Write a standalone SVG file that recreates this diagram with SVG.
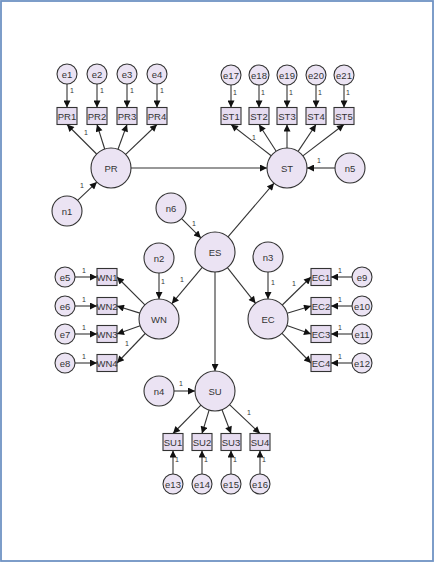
<svg xmlns="http://www.w3.org/2000/svg" width="435" height="563" viewBox="0 0 435 563">
<style>
.lat{fill:#ebe3f3;stroke:#333;stroke-width:1.1}
.err{fill:#ebe3f3;stroke:#333;stroke-width:1.1}
.obs{fill:#e6dcf0;stroke:#333;stroke-width:1.1}
.t{font-family:"Liberation Sans",Arial,sans-serif;font-size:9.5px;fill:#333;text-anchor:middle;dominant-baseline:central}
.s{font-family:"Liberation Sans",Arial,sans-serif;font-size:7px;fill:#333;text-anchor:middle;dominant-baseline:central}
#conn line{stroke:#333;stroke-width:1.1;marker-end:url(#ah)}
</style>
<defs>
<marker id="ah" viewBox="0 0 10 10" refX="10" refY="5" markerWidth="9" markerHeight="7" markerUnits="userSpaceOnUse" orient="auto">
<path d="M0,0 L10,5 L0,10 z" fill="#111"/>
</marker>
</defs>
<rect x="0" y="0" width="435" height="563" fill="#fff"/>
<rect x="1" y="1" width="432" height="560" fill="none" stroke="#6f93c4" stroke-width="1.8"/>

<g id="conn">
<line x1="67" y1="84" x2="67" y2="107.5"/>
<line x1="97" y1="84" x2="97" y2="107.5"/>
<line x1="127" y1="84" x2="127" y2="107.5"/>
<line x1="157" y1="84" x2="157" y2="107.5"/>
<line x1="96.6" y1="154" x2="67" y2="124.5"/>
<line x1="104.7" y1="149" x2="97" y2="124.5"/>
<line x1="118" y1="149.3" x2="127" y2="124.5"/>
<line x1="125.7" y1="154.4" x2="157" y2="124.5"/>
<line x1="77.6" y1="200.4" x2="96.9" y2="182.1"/>
<line x1="131" y1="168" x2="267" y2="168"/>
<line x1="335" y1="168" x2="307" y2="168"/>
<line x1="231" y1="85" x2="231" y2="107.5"/>
<line x1="259" y1="85" x2="259" y2="107.5"/>
<line x1="287" y1="85" x2="287" y2="107.5"/>
<line x1="316" y1="85" x2="316" y2="107.5"/>
<line x1="344" y1="85" x2="344" y2="107.5"/>
<line x1="271.2" y1="155.7" x2="231" y2="124.5"/>
<line x1="276.2" y1="151.2" x2="259" y2="124.5"/>
<line x1="287" y1="148" x2="287" y2="124.5"/>
<line x1="298.1" y1="151.4" x2="316" y2="124.5"/>
<line x1="302.9" y1="155.9" x2="344" y2="124.5"/>
<line x1="228" y1="236.8" x2="274" y2="183.2"/>
<line x1="181.6" y1="218.6" x2="200.9" y2="237.9"/>
<line x1="202.2" y1="267.3" x2="171.8" y2="303.7"/>
<line x1="227.4" y1="267.7" x2="255.6" y2="303.3"/>
<line x1="215" y1="272" x2="215" y2="371"/>
<line x1="159" y1="273" x2="159" y2="299"/>
<line x1="268" y1="272" x2="268" y2="299"/>
<line x1="174" y1="391" x2="195" y2="391"/>
<line x1="144.9" y1="304.9" x2="117" y2="277"/>
<line x1="139.9" y1="313.1" x2="117" y2="306"/>
<line x1="140.2" y1="325.7" x2="117" y2="334"/>
<line x1="145.2" y1="333.5" x2="117" y2="363"/>
<line x1="75" y1="277" x2="97" y2="277"/>
<line x1="75" y1="306" x2="97" y2="306"/>
<line x1="75" y1="334" x2="97" y2="334"/>
<line x1="75" y1="363" x2="97" y2="363"/>
<line x1="282.3" y1="305" x2="311" y2="277"/>
<line x1="287.1" y1="313.2" x2="311" y2="306"/>
<line x1="286.9" y1="325.6" x2="311" y2="334"/>
<line x1="282" y1="333.3" x2="311" y2="363"/>
<line x1="352" y1="277" x2="331" y2="277"/>
<line x1="352" y1="306" x2="331" y2="306"/>
<line x1="352" y1="334" x2="331" y2="334"/>
<line x1="352" y1="363" x2="331" y2="363"/>
<line x1="200.9" y1="405.2" x2="173" y2="433.5"/>
<line x1="209.1" y1="410.1" x2="202" y2="433.5"/>
<line x1="222" y1="409.7" x2="231" y2="433.5"/>
<line x1="229.5" y1="404.7" x2="260" y2="433.5"/>
<line x1="173" y1="474" x2="173" y2="450.5"/>
<line x1="202" y1="474" x2="202" y2="450.5"/>
<line x1="231" y1="474" x2="231" y2="450.5"/>
<line x1="260" y1="474" x2="260" y2="450.5"/>
</g>

<g id="weights">
<text class="s" x="72" y="90">1</text>
<text class="s" x="102" y="90">1</text>
<text class="s" x="132" y="90">1</text>
<text class="s" x="162" y="90">1</text>
<text class="s" x="86" y="132">1</text>
<text class="s" x="82" y="185">1</text>
<text class="s" x="235" y="92">1</text>
<text class="s" x="263" y="92">1</text>
<text class="s" x="291" y="92">1</text>
<text class="s" x="320" y="92">1</text>
<text class="s" x="348" y="92">1</text>
<text class="s" x="254" y="137">1</text>
<text class="s" x="319" y="160">1</text>
<text class="s" x="194" y="223">1</text>
<text class="s" x="182" y="279">1</text>
<text class="s" x="163" y="281">1</text>
<text class="s" x="84" y="270">1</text>
<text class="s" x="84" y="299">1</text>
<text class="s" x="84" y="327">1</text>
<text class="s" x="84" y="356">1</text>
<text class="s" x="127" y="343">1</text>
<text class="s" x="273" y="282">1</text>
<text class="s" x="294" y="283">1</text>
<text class="s" x="340" y="270">1</text>
<text class="s" x="340" y="299">1</text>
<text class="s" x="340" y="327">1</text>
<text class="s" x="340" y="356">1</text>
<text class="s" x="181" y="383">1</text>
<text class="s" x="249" y="412">1</text>
<text class="s" x="177" y="459">1</text>
<text class="s" x="206" y="459">1</text>
<text class="s" x="235" y="459">1</text>
<text class="s" x="264" y="459">1</text>
</g>

<g id="PR"><circle class="lat" cx="111" cy="168" r="20"/><text class="t" x="111" y="168">PR</text></g>
<g id="ST"><circle class="lat" cx="287" cy="168" r="20"/><text class="t" x="287" y="168">ST</text></g>
<g id="ES"><circle class="lat" cx="215" cy="252" r="20"/><text class="t" x="215" y="252">ES</text></g>
<g id="WN"><circle class="lat" cx="159" cy="319" r="20"/><text class="t" x="159" y="319">WN</text></g>
<g id="EC"><circle class="lat" cx="268" cy="319" r="20"/><text class="t" x="268" y="319">EC</text></g>
<g id="SU"><circle class="lat" cx="215" cy="391" r="20"/><text class="t" x="215" y="391">SU</text></g>

<g id="n1"><circle class="err" cx="67" cy="211" r="15"/><text class="t" x="67" y="211">n1</text></g>
<g id="n2"><circle class="err" cx="159" cy="258" r="15"/><text class="t" x="159" y="258">n2</text></g>
<g id="n3"><circle class="err" cx="268" cy="257" r="15"/><text class="t" x="268" y="257">n3</text></g>
<g id="n4"><circle class="err" cx="159" cy="391" r="15"/><text class="t" x="159" y="391">n4</text></g>
<g id="n5"><circle class="err" cx="350" cy="168" r="15"/><text class="t" x="350" y="168">n5</text></g>
<g id="n6"><circle class="err" cx="171" cy="208" r="15"/><text class="t" x="171" y="208">n6</text></g>

<g id="e1"><circle class="err" cx="67" cy="74" r="10"/><text class="t" x="67" y="74">e1</text></g>
<g id="e2"><circle class="err" cx="97" cy="74" r="10"/><text class="t" x="97" y="74">e2</text></g>
<g id="e3"><circle class="err" cx="127" cy="74" r="10"/><text class="t" x="127" y="74">e3</text></g>
<g id="e4"><circle class="err" cx="157" cy="74" r="10"/><text class="t" x="157" y="74">e4</text></g>
<g id="e17"><circle class="err" cx="231" cy="75" r="10"/><text class="t" x="231" y="75">e17</text></g>
<g id="e18"><circle class="err" cx="259" cy="75" r="10"/><text class="t" x="259" y="75">e18</text></g>
<g id="e19"><circle class="err" cx="287" cy="75" r="10"/><text class="t" x="287" y="75">e19</text></g>
<g id="e20"><circle class="err" cx="316" cy="75" r="10"/><text class="t" x="316" y="75">e20</text></g>
<g id="e21"><circle class="err" cx="344" cy="75" r="10"/><text class="t" x="344" y="75">e21</text></g>
<g id="e5"><circle class="err" cx="65" cy="277" r="10"/><text class="t" x="65" y="277">e5</text></g>
<g id="e6"><circle class="err" cx="65" cy="306" r="10"/><text class="t" x="65" y="306">e6</text></g>
<g id="e7"><circle class="err" cx="65" cy="334" r="10"/><text class="t" x="65" y="334">e7</text></g>
<g id="e8"><circle class="err" cx="65" cy="363" r="10"/><text class="t" x="65" y="363">e8</text></g>
<g id="e9"><circle class="err" cx="362" cy="277" r="10"/><text class="t" x="362" y="277">e9</text></g>
<g id="e10"><circle class="err" cx="362" cy="306" r="10"/><text class="t" x="362" y="306">e10</text></g>
<g id="e11"><circle class="err" cx="362" cy="334" r="10"/><text class="t" x="362" y="334">e11</text></g>
<g id="e12"><circle class="err" cx="362" cy="363" r="10"/><text class="t" x="362" y="363">e12</text></g>
<g id="e13"><circle class="err" cx="173" cy="484" r="10"/><text class="t" x="173" y="484">e13</text></g>
<g id="e14"><circle class="err" cx="202" cy="484" r="10"/><text class="t" x="202" y="484">e14</text></g>
<g id="e15"><circle class="err" cx="231" cy="484" r="10"/><text class="t" x="231" y="484">e15</text></g>
<g id="e16"><circle class="err" cx="260" cy="484" r="10"/><text class="t" x="260" y="484">e16</text></g>

<g id="PR1"><rect class="obs" x="57" y="107.5" width="20" height="17"/><text class="t" x="67" y="116">PR1</text></g>
<g id="PR2"><rect class="obs" x="87" y="107.5" width="20" height="17"/><text class="t" x="97" y="116">PR2</text></g>
<g id="PR3"><rect class="obs" x="117" y="107.5" width="20" height="17"/><text class="t" x="127" y="116">PR3</text></g>
<g id="PR4"><rect class="obs" x="147" y="107.5" width="20" height="17"/><text class="t" x="157" y="116">PR4</text></g>
<g id="ST1"><rect class="obs" x="221" y="107.5" width="20" height="17"/><text class="t" x="231" y="116">ST1</text></g>
<g id="ST2"><rect class="obs" x="249" y="107.5" width="20" height="17"/><text class="t" x="259" y="116">ST2</text></g>
<g id="ST3"><rect class="obs" x="277" y="107.5" width="20" height="17"/><text class="t" x="287" y="116">ST3</text></g>
<g id="ST4"><rect class="obs" x="306" y="107.5" width="20" height="17"/><text class="t" x="316" y="116">ST4</text></g>
<g id="ST5"><rect class="obs" x="334" y="107.5" width="20" height="17"/><text class="t" x="344" y="116">ST5</text></g>
<g id="WN1"><rect class="obs" x="97" y="268.5" width="20" height="17"/><text class="t" x="107" y="277">WN1</text></g>
<g id="WN2"><rect class="obs" x="97" y="297.5" width="20" height="17"/><text class="t" x="107" y="306">WN2</text></g>
<g id="WN3"><rect class="obs" x="97" y="325.5" width="20" height="17"/><text class="t" x="107" y="334">WN3</text></g>
<g id="WN4"><rect class="obs" x="97" y="354.5" width="20" height="17"/><text class="t" x="107" y="363">WN4</text></g>
<g id="EC1"><rect class="obs" x="311" y="268.5" width="20" height="17"/><text class="t" x="321" y="277">EC1</text></g>
<g id="EC2"><rect class="obs" x="311" y="297.5" width="20" height="17"/><text class="t" x="321" y="306">EC2</text></g>
<g id="EC3"><rect class="obs" x="311" y="325.5" width="20" height="17"/><text class="t" x="321" y="334">EC3</text></g>
<g id="EC4"><rect class="obs" x="311" y="354.5" width="20" height="17"/><text class="t" x="321" y="363">EC4</text></g>
<g id="SU1"><rect class="obs" x="163" y="433.5" width="20" height="17"/><text class="t" x="173" y="442">SU1</text></g>
<g id="SU2"><rect class="obs" x="192" y="433.5" width="20" height="17"/><text class="t" x="202" y="442">SU2</text></g>
<g id="SU3"><rect class="obs" x="221" y="433.5" width="20" height="17"/><text class="t" x="231" y="442">SU3</text></g>
<g id="SU4"><rect class="obs" x="250" y="433.5" width="20" height="17"/><text class="t" x="260" y="442">SU4</text></g>
</svg>
